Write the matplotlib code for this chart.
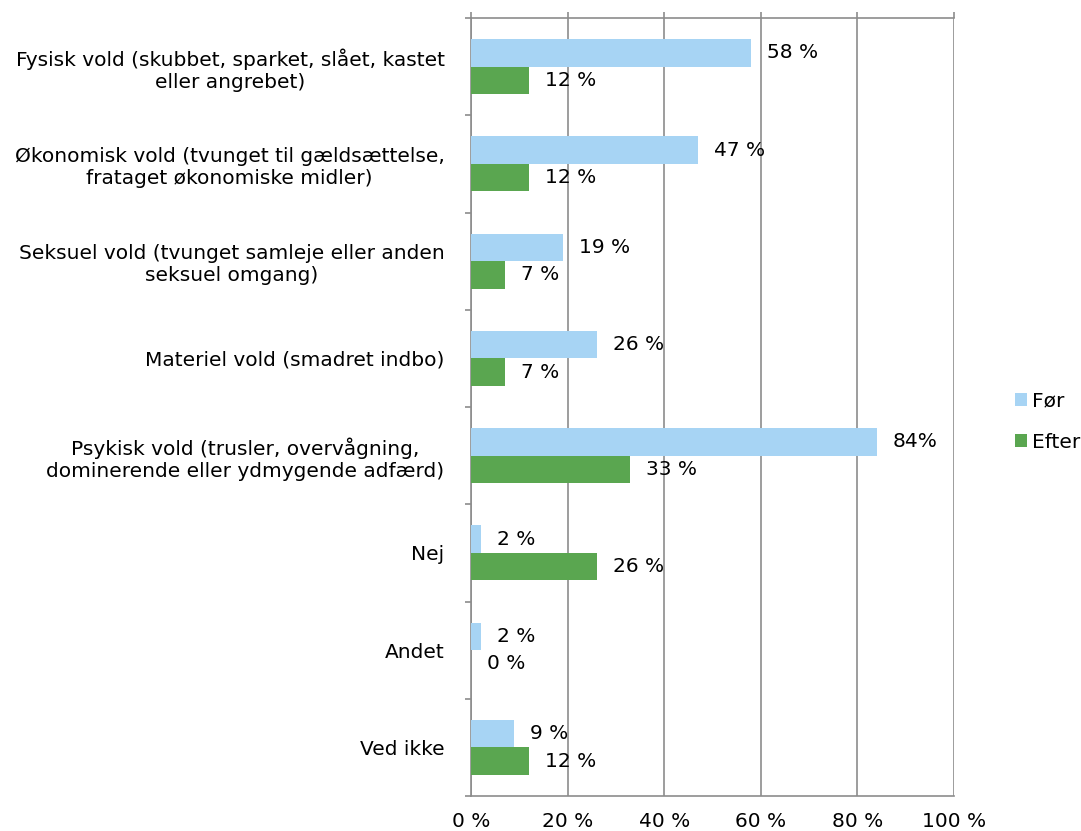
import matplotlib.pyplot as plt
import numpy as np

categories = [
    "Fysisk vold (skubbet, sparket, slået, kastet\neller angrebet)",
    "Økonomisk vold (tvunget til gældsættelse,\nfrataget økonomiske midler)",
    "Seksuel vold (tvunget samleje eller anden\nseksuel omgang)",
    "Materiel vold (smadret indbo)",
    "Psykisk vold (trusler, overvågning,\ndominerende eller ydmygende adfærd)",
    "Nej",
    "Andet",
    "Ved ikke",
]
foer = [58, 47, 19, 26, 84, 2, 2, 9]
efter = [12, 12, 7, 7, 33, 26, 0, 12]
foer_labels = ["58 %", "47 %", "19 %", "26 %", "84%", "2 %", "2 %", "9 %"]
efter_labels = ["12 %", "12 %", "7 %", "7 %", "33 %", "26 %", "0 %", "12 %"]

BLUE = "#a7d4f4"
GREEN = "#5aa650"
GRID = "#8c8c8c"
FS = 14.5

fig = plt.figure(figsize=(10.81, 8.31), dpi=100)
ax = fig.add_axes([0.4357, 0.0421, 0.4468, 0.9362])

y = np.arange(len(categories))
h = 0.283
ax.barh(y - h / 2, foer, height=h, color=BLUE, label="Før", zorder=3)
ax.barh(y + h / 2, efter, height=h, color=GREEN, label="Efter", zorder=3)

for yi, v, lab in zip(y, foer, foer_labels):
    ax.annotate(lab, (v, yi - h / 2), xytext=(11.5, 0), textcoords="offset points",
                va="center", ha="left", fontsize=FS, zorder=4)
for yi, v, lab in zip(y, efter, efter_labels):
    ax.annotate(lab, (v, yi + h / 2), xytext=(11.5, 0), textcoords="offset points",
                va="center", ha="left", fontsize=FS, zorder=4)

ax.set_xlim(0, 100)
ax.set_ylim(len(categories) - 0.5, -0.5)
ax.set_xticks(np.arange(0, 101, 20))
ax.set_xticklabels([f"{v} %" for v in range(0, 101, 20)], fontsize=FS)
ax.xaxis.grid(True, color=GRID, linewidth=1.2, zorder=0)
ax.tick_params(axis="x", which="both", bottom=False, top=True, labelbottom=True,
               length=4.5, color=GRID, width=1.2, pad=7)

ax.set_yticks(y)
ax.set_yticklabels(categories, fontsize=FS, multialignment="center")
ax.set_yticks(np.arange(-0.5, len(categories) + 0.5, 1), minor=True)
ax.tick_params(axis="y", which="major", length=0, pad=19)
ax.tick_params(axis="y", which="minor", length=4.5, color=GRID, width=1.2)

for side in ("top", "bottom", "left"):
    ax.spines[side].set_color(GRID)
    ax.spines[side].set_linewidth(1.2)
ax.spines["right"].set_visible(False)

ax.legend(loc="center left", bbox_to_anchor=(1.11, 0.481), frameon=False,
          fontsize=FS, handlelength=0.6, handleheight=0.6, handletextpad=0.25,
          labelspacing=1.1, borderaxespad=0)

fig.savefig("out.png", dpi=100)
